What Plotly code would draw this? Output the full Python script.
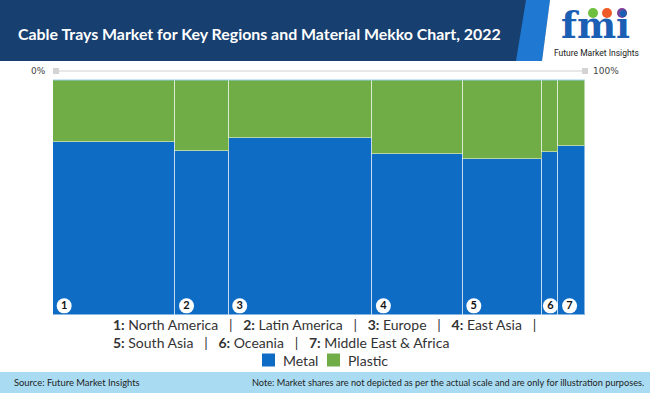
import plotly.graph_objects as go

regions = ["North America", "Latin America", "Europe", "East Asia", "South Asia", "Oceania", "Middle East & Africa"]
region_nums = ["1", "2", "3", "4", "5", "6", "7"]
region_share = [23, 10, 27, 17, 15, 3, 5]          # column widths (%)
metal = [73.5, 69.7, 75.3, 68.7, 66.3, 69.3, 71.9]   # % within region
plastic = [26.5, 30.3, 24.7, 31.3, 33.7, 30.7, 28.1]
series_names = ["Metal", "Plastic"]

W, H = 650, 393
L, R, T, B = 53, 585, 80, 315  # plot area in px

def px(x):
    return (x - L) / (R - L)

def py(y):
    return (B - y) / (B - T)

lefts = []
acc = 0
for w in region_share:
    lefts.append(acc)
    acc += w
centers = [l + w / 2 for l, w in zip(lefts, region_share)]

BLUE = "#0f6cc4"
GREEN = "#70ad47"
FONT = "Lato"

fig = go.Figure()
fig.add_trace(go.Bar(x=centers, y=metal, width=region_share, name=series_names[0],
                     marker=dict(color=BLUE, line=dict(color="rgba(255,255,255,0.5)", width=1)),
                     hoverinfo="skip", showlegend=False))
fig.add_trace(go.Bar(x=centers, y=plastic, width=region_share, name=series_names[1],
                     marker=dict(color=GREEN, line=dict(color="rgba(255,255,255,0.5)", width=1)),
                     hoverinfo="skip", showlegend=False))

# number badges
badge_x = [l + min(w / 2, 2.1) for l, w in zip(lefts, region_share)]
fig.add_trace(go.Scatter(x=badge_x, y=[3.9] * len(badge_x), mode="markers+text",
                         text=[f"<b>{n}</b>" for n in region_nums], textposition="middle center",
                         textfont=dict(family=FONT, size=11, color="#111"),
                         marker=dict(size=15, color="white", line=dict(width=0)),
                         showlegend=False, hoverinfo="skip", cliponaxis=False))

shapes = []
ann = []
# header band
shapes.append(dict(type="rect", xref="paper", yref="paper", x0=px(0), x1=px(W), y0=py(61), y1=py(0),
                   fillcolor="#173f6f", line=dict(width=0), layer="below"))
# light blue stripe
shapes.append(dict(type="path", xref="paper", yref="paper",
                   path=f"M {px(526)} {py(0)} L {px(550)} {py(0)} L {px(542)} {py(61)} L {px(516)} {py(61)} Z",
                   fillcolor="#1f78d1", line=dict(width=0)))
# white logo area
shapes.append(dict(type="path", xref="paper", yref="paper",
                   path=f"M {px(550)} {py(0)} L {px(W)} {py(0)} L {px(W)} {py(61)} L {px(542)} {py(61)} Z",
                   fillcolor="white", line=dict(width=0)))
# logo circles
for cx, col in [(593, "#6fbf3f"), (607, "#f05a28"), (622, "#7b3f98")]:
    shapes.append(dict(type="circle", xref="paper", yref="paper", x0=px(cx - 5), x1=px(cx + 5),
                       y0=py(18), y1=py(8), fillcolor=col, line=dict(width=0)))
# top axis line and squares
shapes.append(dict(type="line", xref="paper", yref="paper", x0=px(58), x1=px(583), y0=py(71), y1=py(71),
                   line=dict(color="#d0d0d0", width=1)))
for sx in [53, 582]:
    shapes.append(dict(type="rect", xref="paper", yref="paper", x0=px(sx), x1=px(sx + 6), y0=py(74), y1=py(68),
                       fillcolor="#d3d3d3", line=dict(width=0)))
# chart top accent
shapes.append(dict(type="line", xref="paper", yref="paper", x0=0, x1=1, y0=1, y1=1,
                   line=dict(color="#8fd0e8", width=1)))
# footer band
shapes.append(dict(type="rect", xref="paper", yref="paper", x0=px(0), x1=px(W), y0=py(H), y1=py(372),
                   fillcolor="#a9dcf2", line=dict(width=0), layer="below"))

# manual legend
for (sx, tx), name, col in zip([(262, 281), (327, 346)], series_names, [BLUE, GREEN]):
    shapes.append(dict(type="rect", xref="paper", yref="paper", x0=px(sx), x1=px(sx + 13),
                       y0=py(366.5), y1=py(353.5), fillcolor=col, line=dict(width=0)))
    ann.append(dict(text=name, xref="paper", yref="paper", x=px(tx), y=py(360), xanchor="left",
                    yanchor="middle", showarrow=False, font=dict(family=FONT, size=14, color="#333")))

ann.append(dict(text="<b>Cable Trays Market for Key Regions and Material Mekko Chart, 2022</b>",
                xref="paper", yref="paper", x=px(16), y=py(33), xanchor="left", yanchor="middle",
                showarrow=False, font=dict(family=FONT, size=15.9, color="white")))
ann.append(dict(text="<b>fmi</b>", xref="paper", yref="paper", x=px(595), y=py(25), xanchor="center",
                yanchor="middle", showarrow=False, font=dict(family="DejaVu Serif", size=37, color="#1a5fb4")))
ann.append(dict(text="Future Market Insights", xref="paper", yref="paper", x=px(596), y=py(53),
                xanchor="center", yanchor="middle", showarrow=False,
                font=dict(family="Liberation Sans Narrow, Roboto", size=8.5, color="#222")))
ann.append(dict(text="0%", xref="paper", yref="paper", x=px(48), y=py(71), xanchor="right", yanchor="middle",
                showarrow=False, font=dict(family="DejaVu Sans", size=9, color="#444")))
ann.append(dict(text="100%", xref="paper", yref="paper", x=px(591), y=py(71), xanchor="left", yanchor="middle",
                showarrow=False, font=dict(family="DejaVu Sans", size=9, color="#444")))

sep = "\u00a0\u00a0\u00a0|\u00a0\u00a0\u00a0"
items = [f"<b>{n}:</b> {r}" for n, r in zip(region_nums, regions)]
line1 = sep.join(items[:4]) + "\u00a0\u00a0\u00a0|"
line2 = sep.join(items[4:])
for txt, yy in [(line1, 324), (line2, 342)]:
    ann.append(dict(text=txt, xref="paper", yref="paper", x=px(111), y=py(yy), xanchor="left",
                    yanchor="middle", showarrow=False, font=dict(family=FONT, size=14, color="#333")))

ann.append(dict(text="Source: Future Market Insights", xref="paper", yref="paper", x=px(12), y=py(382),
                xanchor="left", yanchor="middle", showarrow=False,
                font=dict(family=FONT, size=9.4, color="#222")))
ann.append(dict(text="Note: Market shares are not depicted as per the actual scale and are only for illustration purposes.",
                xref="paper", yref="paper", x=px(646), y=py(382), xanchor="right", yanchor="middle",
                showarrow=False, font=dict(family=FONT, size=9.2, color="#222")))

fig.update_layout(
    width=W, height=H, barmode="stack", bargap=0,
    margin=dict(l=L, r=W - R, t=T, b=H - B, pad=0),
    paper_bgcolor="white", plot_bgcolor="white",
    xaxis=dict(range=[0, 100], visible=False, fixedrange=True),
    yaxis=dict(range=[0, 100], visible=False, fixedrange=True),
    showlegend=False,
    shapes=shapes, annotations=ann,
)

fig.write_html("out.html", config={"displayModeBar": False},
               post_script="document.body.style.margin='0';document.body.style.padding='0';")
